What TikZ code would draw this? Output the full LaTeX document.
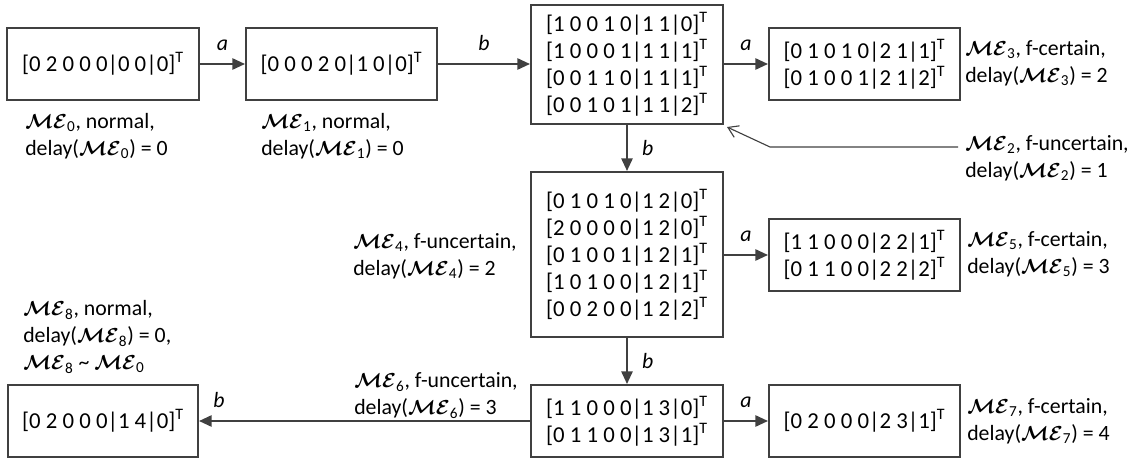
\documentclass[tikz,border=0pt]{standalone}
\usepackage{amsmath}
\usepackage{bm}
\usepackage{fontspec}
\setmainfont{Carlito}
\usetikzlibrary{arrows.meta}
\definecolor{boxgray}{HTML}{404040}
\newcommand{\ME}[1]{$\bm{\mathcal{M}\mathcal{E}}_{\text{#1}}$}
\newcommand{\vT}[1]{[#1]$^{\text{T}}$}

\begin{document}
\begin{tikzpicture}[x=0.025cm,y=-0.025cm,
    font=\fontsize{15.5}{19.2}\selectfont,
    state/.style={draw=boxgray,line width=1.4pt,inner sep=0pt,align=left,
      font=\fontsize{16.2}{19.2}\selectfont},
    tag/.style={align=left,inner sep=0pt,anchor=west},
    move/.style={draw=boxgray,line width=1.4pt,->},
    lbl/.style={inner sep=0pt,font=\fontsize{15.5}{19.2}\selectfont\itshape}]
                \tikzset{>={Triangle[length=9pt,width=8pt]}}
                \useasboundingbox (0,0) rectangle (1144,459);

                % states
                \node[state,minimum width=4.8cm,minimum height=1.8cm] (m0) at (103,64) {\vT{0 2 0 0 0|0 0|0}};
                \node[state,minimum width=4.775cm,minimum height=1.8cm] (m1) at (341.5,64) {\vT{0 0 0 2 0|1 0|0}};
                \node[state,minimum width=4.8cm,minimum height=2.975cm] (m2) at (627,64.5) {\vT{1 0 0 1 0|1 1|0}\\\vT{1 0 0 0 1|1 1|1}\\\vT{0 0 1 1 0|1 1|1}\\\vT{0 0 1 0 1|1 1|2}};
                \node[state,minimum width=4.775cm,minimum height=1.8cm] (m3) at (864.5,64) {\vT{0 1 0 1 0|2 1|1}\\\vT{0 1 0 0 1|2 1|2}};
                \node[state,minimum width=4.8cm,minimum height=4.125cm] (m4) at (627,254.5) {\vT{0 1 0 1 0|1 2|0}\\\vT{2 0 0 0 0|1 2|0}\\\vT{0 1 0 0 1|1 2|1}\\\vT{1 0 1 0 0|1 2|1}\\\vT{0 0 2 0 0|1 2|2}};
                \node[state,minimum width=4.775cm,minimum height=1.8cm] (m5) at (864.5,255) {\vT{1 1 0 0 0|2 2|1}\\\vT{0 1 1 0 0|2 2|2}};
                \node[state,minimum width=4.8cm,minimum height=1.8cm] (m6) at (627,421) {\vT{1 1 0 0 0|1 3|0}\\\vT{0 1 1 0 0|1 3|1}};
                \node[state,minimum width=4.775cm,minimum height=1.8cm] (m7) at (864.5,421) {\vT{0 2 0 0 0|2 3|1}};
                \node[state,minimum width=4.75cm,minimum height=1.8cm] (m8) at (103,421) {\vT{0 2 0 0 0|1 4|0}};

                % transitions
                \draw[move] (m0.east) -- (m0.east -| m1.west) node[lbl,midway,above=9pt] {a};
                \draw[move] (m1.east) -- (m1.east -| m2.west) node[lbl,midway,above=9pt] {b};
                \draw[move] (m2.east |- m3.west) -- (m3.west) node[lbl,midway,above=9pt] {a};
                \draw[move] (m2) -- (m4) node[lbl,midway,right=10pt] {b};
                \draw[move] (m4.east |- m5.west) -- (m5.west) node[lbl,midway,above=9pt] {a};
                \draw[move] (m4) -- (m6) node[lbl,midway,right=10pt] {b};
                \draw[move] (m6.east) -- (m7.west) node[lbl,midway,above=9pt] {a};
                \draw[move] (m6.west) -- (m8.east) node[lbl,pos=0.94,above=9pt] {b};

                % descriptions
                \node[tag] (l0) at (25,136.5) {\ME{0}, normal,\\delay(\ME{0}) = 0};
                \node[tag] (l1) at (261,136.5) {\ME{1}, normal,\\delay(\ME{1}) = 0};
                \node[tag] (l2) at (965,158) {\ME{2}, f-uncertain,\\delay(\ME{2}) = 1};
                \node[tag] (l3) at (965,63) {\ME{3}, f-certain,\\delay(\ME{3}) = 2};
                \node[tag] (l4) at (353,256.5) {\ME{4}, f-uncertain,\\delay(\ME{4}) = 2};
                \node[tag] (l5) at (967,254.5) {\ME{5}, f-certain,\\delay(\ME{5}) = 3};
                \node[tag] (l6) at (354,395.5) {\ME{6}, f-uncertain,\\delay(\ME{6}) = 3};
                \node[tag] (l7) at (967,421) {\ME{7}, f-certain,\\delay(\ME{7}) = 4};
                \node[tag] (l8) at (23,337) {\ME{8}, normal,\\delay(\ME{8}) = 0,\\\ME{8} \textasciitilde{} \ME{0}};

                \coordinate (p2) at (958,147);
                \draw[boxgray,line width=0.8pt,-{Straight Barb[length=7pt,width=9pt]}] (p2) -- ++(-188,0) -- ([shift={(3,2)}]m2.south east);
            \end{tikzpicture}
\end{document}
